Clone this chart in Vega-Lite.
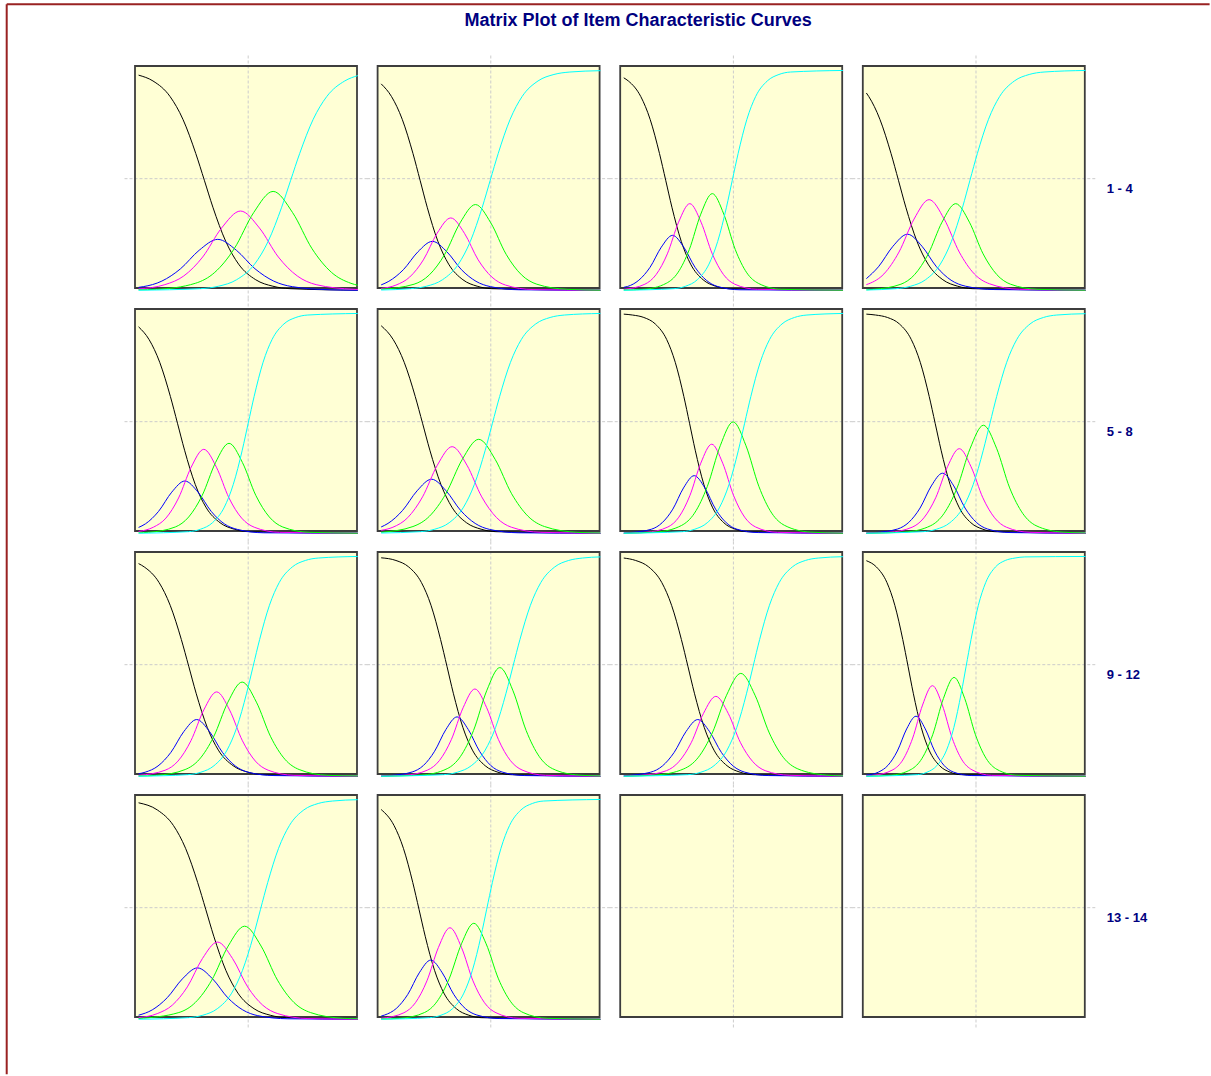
{
"$schema": "https://vega.github.io/schema/vega-lite/v6.json",
"padding": {"left": 5, "top": 3, "right": 0, "bottom": 0},
"background": "white",
"title": {"text": "Matrix Plot of Item Characteristic Curves", "font": "Liberation Sans", "fontSize": 18, "fontWeight": "bold", "color": "#000080", "anchor": "middle", "offset": -27, "dx": 30},
"data": {"values": [
{"i":1,"g":1},{"i":2,"g":1},{"i":3,"g":1},{"i":4,"g":1},{"i":5,"g":1},{"i":6,"g":1},{"i":7,"g":1},{"i":8,"g":1},
{"i":9,"g":1},{"i":10,"g":1},{"i":11,"g":1},{"i":12,"g":1},{"i":13,"g":1},{"i":14,"g":1},{"i":15,"g":1},{"i":16,"g":1},
{"i":4,"lab":"1 - 4"},{"i":8,"lab":"5 - 8"},{"i":12,"lab":"9 - 12"},{"i":16,"lab":"13 - 14"},
{"i":1,"b":1},
{"i":1,"c":1,"t":-4,"p":0.964},{"i":1,"c":1,"t":-3.475,"p":0.938},{"i":1,"c":1,"t":-2.85,"p":0.868},{"i":1,"c":1,"t":-2.381,"p":0.766},{"i":1,"c":1,"t":-1.913,"p":0.613},{"i":1,"c":1,"t":-1.6,"p":0.493},{"i":1,"c":1,"t":-1.288,"p":0.372},{"i":1,"c":1,"t":-0.819,"p":0.219},{"i":1,"c":1,"t":-0.35,"p":0.117},{"i":1,"c":1,"t":0.275,"p":0.047},{"i":1,"c":1,"t":0.9,"p":0.018},{"i":1,"c":1,"t":1.525,"p":0.007},{"i":1,"c":1,"t":4,"p":0},
{"i":1,"c":2,"t":-4,"p":0.013},{"i":1,"c":2,"t":-3.83,"p":0.016},{"i":1,"c":2,"t":-3.15,"p":0.041},{"i":1,"c":2,"t":-2.47,"p":0.096},{"i":1,"c":2,"t":-1.79,"p":0.179},{"i":1,"c":2,"t":-1.11,"p":0.228},{"i":1,"c":2,"t":-0.43,"p":0.179},{"i":1,"c":2,"t":0.25,"p":0.096},{"i":1,"c":2,"t":0.93,"p":0.041},{"i":1,"c":2,"t":1.61,"p":0.016},{"i":1,"c":2,"t":2.97,"p":0.002},{"i":1,"c":2,"t":4,"p":0},
{"i":1,"c":3,"t":-4,"p":0.006},{"i":1,"c":3,"t":-3.04,"p":0.025},{"i":1,"c":3,"t":-2.35,"p":0.064},{"i":1,"c":3,"t":-1.66,"p":0.149},{"i":1,"c":3,"t":-0.97,"p":0.279},{"i":1,"c":3,"t":-0.28,"p":0.355},{"i":1,"c":3,"t":0.41,"p":0.279},{"i":1,"c":3,"t":1.1,"p":0.149},{"i":1,"c":3,"t":1.79,"p":0.064},{"i":1,"c":3,"t":2.48,"p":0.025},{"i":1,"c":3,"t":3.86,"p":0.004},{"i":1,"c":3,"t":4,"p":0.003},
{"i":1,"c":4,"t":-4,"p":0.002},{"i":1,"c":4,"t":-3.35,"p":0.004},{"i":1,"c":4,"t":-1.93,"p":0.031},{"i":1,"c":4,"t":-1.22,"p":0.08},{"i":1,"c":4,"t":-0.51,"p":0.186},{"i":1,"c":4,"t":0.2,"p":0.348},{"i":1,"c":4,"t":0.91,"p":0.443},{"i":1,"c":4,"t":1.62,"p":0.348},{"i":1,"c":4,"t":2.33,"p":0.186},{"i":1,"c":4,"t":3.04,"p":0.08},{"i":1,"c":4,"t":3.75,"p":0.031},{"i":1,"c":4,"t":4,"p":0.022},
{"i":1,"c":5,"t":-4,"p":0},{"i":1,"c":5,"t":-1.74,"p":0.007},{"i":1,"c":5,"t":-1.082,"p":0.018},{"i":1,"c":5,"t":-0.424,"p":0.047},{"i":1,"c":5,"t":0.234,"p":0.117},{"i":1,"c":5,"t":0.728,"p":0.219},{"i":1,"c":5,"t":1.221,"p":0.372},{"i":1,"c":5,"t":1.55,"p":0.493},{"i":1,"c":5,"t":1.879,"p":0.613},{"i":1,"c":5,"t":2.372,"p":0.766},{"i":1,"c":5,"t":2.866,"p":0.868},{"i":1,"c":5,"t":3.524,"p":0.938},{"i":1,"c":5,"t":4,"p":0.962},
{"i":2,"c":1,"t":-4,"p":0.925},{"i":2,"c":1,"t":-3.622,"p":0.868},{"i":2,"c":1,"t":-3.231,"p":0.766},{"i":2,"c":1,"t":-2.84,"p":0.613},{"i":2,"c":1,"t":-2.58,"p":0.493},{"i":2,"c":1,"t":-2.32,"p":0.372},{"i":2,"c":1,"t":-1.929,"p":0.219},{"i":2,"c":1,"t":-1.538,"p":0.117},{"i":2,"c":1,"t":-1.017,"p":0.047},{"i":2,"c":1,"t":-0.496,"p":0.018},{"i":2,"c":1,"t":0.025,"p":0.007},{"i":2,"c":1,"t":4,"p":0},
{"i":2,"c":2,"t":-4,"p":0.024},{"i":2,"c":2,"t":-3.72,"p":0.04},{"i":2,"c":2,"t":-3.19,"p":0.092},{"i":2,"c":2,"t":-2.66,"p":0.172},{"i":2,"c":2,"t":-2.13,"p":0.219},{"i":2,"c":2,"t":-1.6,"p":0.172},{"i":2,"c":2,"t":-1.07,"p":0.092},{"i":2,"c":2,"t":-0.54,"p":0.04},{"i":2,"c":2,"t":-0.01,"p":0.016},{"i":2,"c":2,"t":1.05,"p":0.002},{"i":2,"c":2,"t":4,"p":0},
{"i":2,"c":3,"t":-4,"p":0.008},{"i":2,"c":3,"t":-3.46,"p":0.023},{"i":2,"c":3,"t":-2.96,"p":0.059},{"i":2,"c":3,"t":-2.46,"p":0.136},{"i":2,"c":3,"t":-1.96,"p":0.255},{"i":2,"c":3,"t":-1.46,"p":0.324},{"i":2,"c":3,"t":-0.96,"p":0.255},{"i":2,"c":3,"t":-0.46,"p":0.136},{"i":2,"c":3,"t":0.04,"p":0.059},{"i":2,"c":3,"t":0.54,"p":0.023},{"i":2,"c":3,"t":1.54,"p":0.003},{"i":2,"c":3,"t":4,"p":0},
{"i":2,"c":4,"t":-4,"p":0.004},{"i":2,"c":4,"t":-2.8,"p":0.027},{"i":2,"c":4,"t":-2.24,"p":0.069},{"i":2,"c":4,"t":-1.68,"p":0.161},{"i":2,"c":4,"t":-1.12,"p":0.302},{"i":2,"c":4,"t":-0.56,"p":0.384},{"i":2,"c":4,"t":0,"p":0.302},{"i":2,"c":4,"t":0.56,"p":0.161},{"i":2,"c":4,"t":1.12,"p":0.069},{"i":2,"c":4,"t":1.68,"p":0.027},{"i":2,"c":4,"t":2.8,"p":0.004},{"i":2,"c":4,"t":4,"p":0},
{"i":2,"c":5,"t":-4,"p":0.001},{"i":2,"c":5,"t":-2.925,"p":0.007},{"i":2,"c":5,"t":-2.344,"p":0.018},{"i":2,"c":5,"t":-1.763,"p":0.047},{"i":2,"c":5,"t":-1.182,"p":0.117},{"i":2,"c":5,"t":-0.746,"p":0.219},{"i":2,"c":5,"t":-0.311,"p":0.372},{"i":2,"c":5,"t":-0.02,"p":0.493},{"i":2,"c":5,"t":0.271,"p":0.613},{"i":2,"c":5,"t":0.706,"p":0.766},{"i":2,"c":5,"t":1.142,"p":0.868},{"i":2,"c":5,"t":1.723,"p":0.938},{"i":2,"c":5,"t":2.304,"p":0.967},{"i":2,"c":5,"t":2.885,"p":0.978},{"i":2,"c":5,"t":4,"p":0.984},
{"i":3,"c":1,"t":-4,"p":0.952},{"i":3,"c":1,"t":-3.834,"p":0.938},{"i":3,"c":1,"t":-3.379,"p":0.868},{"i":3,"c":1,"t":-3.038,"p":0.766},{"i":3,"c":1,"t":-2.697,"p":0.613},{"i":3,"c":1,"t":-2.47,"p":0.493},{"i":3,"c":1,"t":-2.243,"p":0.372},{"i":3,"c":1,"t":-1.902,"p":0.219},{"i":3,"c":1,"t":-1.561,"p":0.117},{"i":3,"c":1,"t":-1.106,"p":0.047},{"i":3,"c":1,"t":-0.652,"p":0.018},{"i":3,"c":1,"t":-0.197,"p":0.007},{"i":3,"c":1,"t":4,"p":0},
{"i":3,"c":2,"t":-4,"p":0.013},{"i":3,"c":2,"t":-3.86,"p":0.017},{"i":3,"c":2,"t":-3.45,"p":0.045},{"i":3,"c":2,"t":-3.04,"p":0.103},{"i":3,"c":2,"t":-2.63,"p":0.193},{"i":3,"c":2,"t":-2.22,"p":0.246},{"i":3,"c":2,"t":-1.81,"p":0.193},{"i":3,"c":2,"t":-1.4,"p":0.103},{"i":3,"c":2,"t":-0.99,"p":0.045},{"i":3,"c":2,"t":-0.58,"p":0.017},{"i":3,"c":2,"t":0.24,"p":0.002},{"i":3,"c":2,"t":4,"p":0},
{"i":3,"c":3,"t":-4,"p":0.004},{"i":3,"c":3,"t":-3.23,"p":0.027},{"i":3,"c":3,"t":-2.82,"p":0.07},{"i":3,"c":3,"t":-2.41,"p":0.163},{"i":3,"c":3,"t":-2,"p":0.305},{"i":3,"c":3,"t":-1.59,"p":0.388},{"i":3,"c":3,"t":-1.18,"p":0.305},{"i":3,"c":3,"t":-0.77,"p":0.163},{"i":3,"c":3,"t":-0.36,"p":0.07},{"i":3,"c":3,"t":0.05,"p":0.027},{"i":3,"c":3,"t":0.87,"p":0.004},{"i":3,"c":3,"t":4,"p":0},
{"i":3,"c":4,"t":-4,"p":0.001},{"i":3,"c":4,"t":-3.29,"p":0.004},{"i":3,"c":4,"t":-2.45,"p":0.031},{"i":3,"c":4,"t":-2.03,"p":0.078},{"i":3,"c":4,"t":-1.61,"p":0.182},{"i":3,"c":4,"t":-1.19,"p":0.341},{"i":3,"c":4,"t":-0.77,"p":0.433},{"i":3,"c":4,"t":-0.35,"p":0.341},{"i":3,"c":4,"t":0.07,"p":0.182},{"i":3,"c":4,"t":0.49,"p":0.078},{"i":3,"c":4,"t":0.91,"p":0.031},{"i":3,"c":4,"t":1.75,"p":0.004},{"i":3,"c":4,"t":4,"p":0},
{"i":3,"c":5,"t":-4,"p":0},{"i":3,"c":5,"t":-2.168,"p":0.007},{"i":3,"c":5,"t":-1.742,"p":0.018},{"i":3,"c":5,"t":-1.317,"p":0.047},{"i":3,"c":5,"t":-0.891,"p":0.117},{"i":3,"c":5,"t":-0.572,"p":0.219},{"i":3,"c":5,"t":-0.253,"p":0.372},{"i":3,"c":5,"t":-0.04,"p":0.493},{"i":3,"c":5,"t":0.173,"p":0.613},{"i":3,"c":5,"t":0.492,"p":0.766},{"i":3,"c":5,"t":0.811,"p":0.868},{"i":3,"c":5,"t":1.237,"p":0.938},{"i":3,"c":5,"t":1.662,"p":0.967},{"i":3,"c":5,"t":2.088,"p":0.978},{"i":3,"c":5,"t":4,"p":0.985},
{"i":4,"c":1,"t":-4,"p":0.884},{"i":4,"c":1,"t":-3.911,"p":0.868},{"i":4,"c":1,"t":-3.506,"p":0.766},{"i":4,"c":1,"t":-3.1,"p":0.613},{"i":4,"c":1,"t":-2.83,"p":0.493},{"i":4,"c":1,"t":-2.56,"p":0.372},{"i":4,"c":1,"t":-2.154,"p":0.219},{"i":4,"c":1,"t":-1.749,"p":0.117},{"i":4,"c":1,"t":-1.209,"p":0.047},{"i":4,"c":1,"t":-0.668,"p":0.018},{"i":4,"c":1,"t":-0.127,"p":0.007},{"i":4,"c":1,"t":4,"p":0},
{"i":4,"c":2,"t":-4,"p":0.052},{"i":4,"c":2,"t":-3.56,"p":0.105},{"i":4,"c":2,"t":-3.03,"p":0.197},{"i":4,"c":2,"t":-2.5,"p":0.251},{"i":4,"c":2,"t":-1.97,"p":0.197},{"i":4,"c":2,"t":-1.44,"p":0.105},{"i":4,"c":2,"t":-0.91,"p":0.045},{"i":4,"c":2,"t":-0.38,"p":0.018},{"i":4,"c":2,"t":0.68,"p":0.003},{"i":4,"c":2,"t":4,"p":0},
{"i":4,"c":3,"t":-4,"p":0.025},{"i":4,"c":3,"t":-3.91,"p":0.029},{"i":4,"c":3,"t":-3.36,"p":0.073},{"i":4,"c":3,"t":-2.81,"p":0.171},{"i":4,"c":3,"t":-2.26,"p":0.319},{"i":4,"c":3,"t":-1.71,"p":0.406},{"i":4,"c":3,"t":-1.16,"p":0.319},{"i":4,"c":3,"t":-0.61,"p":0.171},{"i":4,"c":3,"t":-0.06,"p":0.073},{"i":4,"c":3,"t":0.49,"p":0.029},{"i":4,"c":3,"t":1.59,"p":0.004},{"i":4,"c":3,"t":4,"p":0},
{"i":4,"c":4,"t":-4,"p":0.002},{"i":4,"c":4,"t":-3.74,"p":0.004},{"i":4,"c":4,"t":-2.74,"p":0.027},{"i":4,"c":4,"t":-2.24,"p":0.07},{"i":4,"c":4,"t":-1.74,"p":0.163},{"i":4,"c":4,"t":-1.24,"p":0.305},{"i":4,"c":4,"t":-0.74,"p":0.388},{"i":4,"c":4,"t":-0.24,"p":0.305},{"i":4,"c":4,"t":0.26,"p":0.163},{"i":4,"c":4,"t":0.76,"p":0.07},{"i":4,"c":4,"t":1.26,"p":0.027},{"i":4,"c":4,"t":2.26,"p":0.004},{"i":4,"c":4,"t":4,"p":0},
{"i":4,"c":5,"t":-4,"p":0.001},{"i":4,"c":5,"t":-2.923,"p":0.007},{"i":4,"c":5,"t":-2.382,"p":0.018},{"i":4,"c":5,"t":-1.842,"p":0.047},{"i":4,"c":5,"t":-1.301,"p":0.117},{"i":4,"c":5,"t":-0.896,"p":0.219},{"i":4,"c":5,"t":-0.49,"p":0.372},{"i":4,"c":5,"t":-0.22,"p":0.493},{"i":4,"c":5,"t":0.05,"p":0.613},{"i":4,"c":5,"t":0.456,"p":0.766},{"i":4,"c":5,"t":0.861,"p":0.868},{"i":4,"c":5,"t":1.402,"p":0.938},{"i":4,"c":5,"t":1.942,"p":0.967},{"i":4,"c":5,"t":2.483,"p":0.978},{"i":4,"c":5,"t":4,"p":0.985},
{"i":5,"c":1,"t":-4,"p":0.925},{"i":5,"c":1,"t":-3.616,"p":0.868},{"i":5,"c":1,"t":-3.228,"p":0.766},{"i":5,"c":1,"t":-2.839,"p":0.613},{"i":5,"c":1,"t":-2.58,"p":0.493},{"i":5,"c":1,"t":-2.321,"p":0.372},{"i":5,"c":1,"t":-1.933,"p":0.219},{"i":5,"c":1,"t":-1.544,"p":0.117},{"i":5,"c":1,"t":-1.026,"p":0.047},{"i":5,"c":1,"t":-0.508,"p":0.018},{"i":5,"c":1,"t":0.01,"p":0.007},{"i":5,"c":1,"t":4,"p":0},
{"i":5,"c":2,"t":-4,"p":0.026},{"i":5,"c":2,"t":-3.75,"p":0.042},{"i":5,"c":2,"t":-3.27,"p":0.098},{"i":5,"c":2,"t":-2.79,"p":0.184},{"i":5,"c":2,"t":-2.31,"p":0.234},{"i":5,"c":2,"t":-1.83,"p":0.184},{"i":5,"c":2,"t":-1.35,"p":0.098},{"i":5,"c":2,"t":-0.87,"p":0.042},{"i":5,"c":2,"t":-0.39,"p":0.017},{"i":5,"c":2,"t":0.57,"p":0.002},{"i":5,"c":2,"t":4,"p":0},
{"i":5,"c":3,"t":-4,"p":0.008},{"i":5,"c":3,"t":-3.46,"p":0.027},{"i":5,"c":3,"t":-3,"p":0.068},{"i":5,"c":3,"t":-2.54,"p":0.158},{"i":5,"c":3,"t":-2.08,"p":0.296},{"i":5,"c":3,"t":-1.62,"p":0.376},{"i":5,"c":3,"t":-1.16,"p":0.296},{"i":5,"c":3,"t":-0.7,"p":0.158},{"i":5,"c":3,"t":-0.24,"p":0.068},{"i":5,"c":3,"t":0.22,"p":0.027},{"i":5,"c":3,"t":1.14,"p":0.004},{"i":5,"c":3,"t":4,"p":0},
{"i":5,"c":4,"t":-4,"p":0.002},{"i":5,"c":4,"t":-3.64,"p":0.004},{"i":5,"c":4,"t":-2.66,"p":0.028},{"i":5,"c":4,"t":-2.17,"p":0.073},{"i":5,"c":4,"t":-1.68,"p":0.169},{"i":5,"c":4,"t":-1.19,"p":0.317},{"i":5,"c":4,"t":-0.7,"p":0.403},{"i":5,"c":4,"t":-0.21,"p":0.317},{"i":5,"c":4,"t":0.28,"p":0.169},{"i":5,"c":4,"t":0.77,"p":0.073},{"i":5,"c":4,"t":1.26,"p":0.028},{"i":5,"c":4,"t":2.24,"p":0.004},{"i":5,"c":4,"t":4,"p":0},
{"i":5,"c":5,"t":-4,"p":0},{"i":5,"c":5,"t":-2.174,"p":0.007},{"i":5,"c":5,"t":-1.739,"p":0.018},{"i":5,"c":5,"t":-1.304,"p":0.047},{"i":5,"c":5,"t":-0.87,"p":0.117},{"i":5,"c":5,"t":-0.543,"p":0.219},{"i":5,"c":5,"t":-0.217,"p":0.372},{"i":5,"c":5,"t":0,"p":0.493},{"i":5,"c":5,"t":0.217,"p":0.613},{"i":5,"c":5,"t":0.543,"p":0.766},{"i":5,"c":5,"t":0.87,"p":0.868},{"i":5,"c":5,"t":1.304,"p":0.938},{"i":5,"c":5,"t":1.739,"p":0.967},{"i":5,"c":5,"t":2.174,"p":0.978},{"i":5,"c":5,"t":4,"p":0.985},
{"i":6,"c":1,"t":-4,"p":0.93},{"i":6,"c":1,"t":-3.56,"p":0.868},{"i":6,"c":1,"t":-3.159,"p":0.766},{"i":6,"c":1,"t":-2.757,"p":0.613},{"i":6,"c":1,"t":-2.49,"p":0.493},{"i":6,"c":1,"t":-2.223,"p":0.372},{"i":6,"c":1,"t":-1.821,"p":0.219},{"i":6,"c":1,"t":-1.42,"p":0.117},{"i":6,"c":1,"t":-0.886,"p":0.047},{"i":6,"c":1,"t":-0.351,"p":0.018},{"i":6,"c":1,"t":0.184,"p":0.007},{"i":6,"c":1,"t":4,"p":0},
{"i":6,"c":2,"t":-4,"p":0.028},{"i":6,"c":2,"t":-3.75,"p":0.044},{"i":6,"c":2,"t":-3.22,"p":0.102},{"i":6,"c":2,"t":-2.69,"p":0.19},{"i":6,"c":2,"t":-2.16,"p":0.242},{"i":6,"c":2,"t":-1.63,"p":0.19},{"i":6,"c":2,"t":-1.1,"p":0.102},{"i":6,"c":2,"t":-0.57,"p":0.044},{"i":6,"c":2,"t":-0.04,"p":0.017},{"i":6,"c":2,"t":1.02,"p":0.002},{"i":6,"c":2,"t":4,"p":0},
{"i":6,"c":3,"t":-4,"p":0.013},{"i":6,"c":3,"t":-3.57,"p":0.027},{"i":6,"c":3,"t":-3.03,"p":0.07},{"i":6,"c":3,"t":-2.49,"p":0.163},{"i":6,"c":3,"t":-1.95,"p":0.305},{"i":6,"c":3,"t":-1.41,"p":0.388},{"i":6,"c":3,"t":-0.87,"p":0.305},{"i":6,"c":3,"t":-0.33,"p":0.163},{"i":6,"c":3,"t":0.21,"p":0.07},{"i":6,"c":3,"t":0.75,"p":0.027},{"i":6,"c":3,"t":1.83,"p":0.004},{"i":6,"c":3,"t":4,"p":0},
{"i":6,"c":4,"t":-4,"p":0.004},{"i":6,"c":4,"t":-2.84,"p":0.03},{"i":6,"c":4,"t":-2.24,"p":0.076},{"i":6,"c":4,"t":-1.64,"p":0.177},{"i":6,"c":4,"t":-1.04,"p":0.331},{"i":6,"c":4,"t":-0.44,"p":0.421},{"i":6,"c":4,"t":0.16,"p":0.331},{"i":6,"c":4,"t":0.76,"p":0.177},{"i":6,"c":4,"t":1.36,"p":0.076},{"i":6,"c":4,"t":1.96,"p":0.03},{"i":6,"c":4,"t":3.16,"p":0.004},{"i":6,"c":4,"t":4,"p":0.001},
{"i":6,"c":5,"t":-4,"p":0.001},{"i":6,"c":5,"t":-2.572,"p":0.007},{"i":6,"c":5,"t":-2.045,"p":0.018},{"i":6,"c":5,"t":-1.519,"p":0.047},{"i":6,"c":5,"t":-0.993,"p":0.117},{"i":6,"c":5,"t":-0.598,"p":0.219},{"i":6,"c":5,"t":-0.203,"p":0.372},{"i":6,"c":5,"t":0.06,"p":0.493},{"i":6,"c":5,"t":0.323,"p":0.613},{"i":6,"c":5,"t":0.718,"p":0.766},{"i":6,"c":5,"t":1.113,"p":0.868},{"i":6,"c":5,"t":1.639,"p":0.938},{"i":6,"c":5,"t":2.165,"p":0.967},{"i":6,"c":5,"t":2.692,"p":0.978},{"i":6,"c":5,"t":4,"p":0.985},
{"i":7,"c":1,"t":-4,"p":0.982},{"i":7,"c":1,"t":-3.683,"p":0.978},{"i":7,"c":1,"t":-3.267,"p":0.967},{"i":7,"c":1,"t":-2.85,"p":0.938},{"i":7,"c":1,"t":-2.433,"p":0.868},{"i":7,"c":1,"t":-2.121,"p":0.766},{"i":7,"c":1,"t":-1.808,"p":0.613},{"i":7,"c":1,"t":-1.6,"p":0.493},{"i":7,"c":1,"t":-1.392,"p":0.372},{"i":7,"c":1,"t":-1.079,"p":0.219},{"i":7,"c":1,"t":-0.767,"p":0.117},{"i":7,"c":1,"t":-0.35,"p":0.047},{"i":7,"c":1,"t":0.067,"p":0.018},{"i":7,"c":1,"t":0.483,"p":0.007},{"i":7,"c":1,"t":4,"p":0},
{"i":7,"c":2,"t":-4,"p":0.001},{"i":7,"c":2,"t":-3.77,"p":0.003},{"i":7,"c":2,"t":-2.99,"p":0.018},{"i":7,"c":2,"t":-2.6,"p":0.047},{"i":7,"c":2,"t":-2.21,"p":0.108},{"i":7,"c":2,"t":-1.82,"p":0.203},{"i":7,"c":2,"t":-1.43,"p":0.258},{"i":7,"c":2,"t":-1.04,"p":0.203},{"i":7,"c":2,"t":-0.65,"p":0.108},{"i":7,"c":2,"t":-0.26,"p":0.047},{"i":7,"c":2,"t":0.13,"p":0.018},{"i":7,"c":2,"t":0.91,"p":0.003},{"i":7,"c":2,"t":4,"p":0},
{"i":7,"c":3,"t":-4,"p":0},{"i":7,"c":3,"t":-3.19,"p":0.004},{"i":7,"c":3,"t":-2.39,"p":0.028},{"i":7,"c":3,"t":-1.99,"p":0.072},{"i":7,"c":3,"t":-1.59,"p":0.168},{"i":7,"c":3,"t":-1.19,"p":0.314},{"i":7,"c":3,"t":-0.79,"p":0.399},{"i":7,"c":3,"t":-0.39,"p":0.314},{"i":7,"c":3,"t":0.01,"p":0.168},{"i":7,"c":3,"t":0.41,"p":0.072},{"i":7,"c":3,"t":0.81,"p":0.028},{"i":7,"c":3,"t":1.61,"p":0.004},{"i":7,"c":3,"t":4,"p":0},
{"i":7,"c":4,"t":-4,"p":0},{"i":7,"c":4,"t":-2.83,"p":0.005},{"i":7,"c":4,"t":-1.89,"p":0.035},{"i":7,"c":4,"t":-1.42,"p":0.09},{"i":7,"c":4,"t":-0.95,"p":0.21},{"i":7,"c":4,"t":-0.48,"p":0.392},{"i":7,"c":4,"t":-0.01,"p":0.499},{"i":7,"c":4,"t":0.46,"p":0.392},{"i":7,"c":4,"t":0.93,"p":0.21},{"i":7,"c":4,"t":1.4,"p":0.09},{"i":7,"c":4,"t":1.87,"p":0.035},{"i":7,"c":4,"t":2.81,"p":0.005},{"i":7,"c":4,"t":4,"p":0},
{"i":7,"c":5,"t":-4,"p":0},{"i":7,"c":5,"t":-1.863,"p":0.007},{"i":7,"c":5,"t":-1.408,"p":0.018},{"i":7,"c":5,"t":-0.954,"p":0.047},{"i":7,"c":5,"t":-0.499,"p":0.117},{"i":7,"c":5,"t":-0.158,"p":0.219},{"i":7,"c":5,"t":0.183,"p":0.372},{"i":7,"c":5,"t":0.41,"p":0.493},{"i":7,"c":5,"t":0.637,"p":0.613},{"i":7,"c":5,"t":0.978,"p":0.766},{"i":7,"c":5,"t":1.319,"p":0.868},{"i":7,"c":5,"t":1.774,"p":0.938},{"i":7,"c":5,"t":2.228,"p":0.967},{"i":7,"c":5,"t":2.683,"p":0.978},{"i":7,"c":5,"t":4,"p":0.985},
{"i":8,"c":1,"t":-4,"p":0.982},{"i":8,"c":1,"t":-3.664,"p":0.978},{"i":8,"c":1,"t":-3.229,"p":0.967},{"i":8,"c":1,"t":-2.794,"p":0.938},{"i":8,"c":1,"t":-2.36,"p":0.868},{"i":8,"c":1,"t":-2.033,"p":0.766},{"i":8,"c":1,"t":-1.707,"p":0.613},{"i":8,"c":1,"t":-1.49,"p":0.493},{"i":8,"c":1,"t":-1.273,"p":0.372},{"i":8,"c":1,"t":-0.947,"p":0.219},{"i":8,"c":1,"t":-0.62,"p":0.117},{"i":8,"c":1,"t":-0.186,"p":0.047},{"i":8,"c":1,"t":0.249,"p":0.018},{"i":8,"c":1,"t":0.684,"p":0.007},{"i":8,"c":1,"t":4,"p":0},
{"i":8,"c":2,"t":-4,"p":0.001},{"i":8,"c":2,"t":-3.68,"p":0.003},{"i":8,"c":2,"t":-2.86,"p":0.019},{"i":8,"c":2,"t":-2.45,"p":0.049},{"i":8,"c":2,"t":-2.04,"p":0.113},{"i":8,"c":2,"t":-1.63,"p":0.212},{"i":8,"c":2,"t":-1.22,"p":0.269},{"i":8,"c":2,"t":-0.81,"p":0.212},{"i":8,"c":2,"t":-0.4,"p":0.113},{"i":8,"c":2,"t":0.01,"p":0.049},{"i":8,"c":2,"t":0.42,"p":0.019},{"i":8,"c":2,"t":1.24,"p":0.003},{"i":8,"c":2,"t":4,"p":0},
{"i":8,"c":3,"t":-4,"p":0.001},{"i":8,"c":3,"t":-3.19,"p":0.004},{"i":8,"c":3,"t":-2.33,"p":0.027},{"i":8,"c":3,"t":-1.9,"p":0.069},{"i":8,"c":3,"t":-1.47,"p":0.159},{"i":8,"c":3,"t":-1.04,"p":0.298},{"i":8,"c":3,"t":-0.61,"p":0.379},{"i":8,"c":3,"t":-0.18,"p":0.298},{"i":8,"c":3,"t":0.25,"p":0.159},{"i":8,"c":3,"t":0.68,"p":0.069},{"i":8,"c":3,"t":1.11,"p":0.027},{"i":8,"c":3,"t":1.97,"p":0.004},{"i":8,"c":3,"t":4,"p":0},
{"i":8,"c":4,"t":-4,"p":0},{"i":8,"c":4,"t":-2.61,"p":0.005},{"i":8,"c":4,"t":-1.65,"p":0.034},{"i":8,"c":4,"t":-1.17,"p":0.088},{"i":8,"c":4,"t":-0.69,"p":0.203},{"i":8,"c":4,"t":-0.21,"p":0.381},{"i":8,"c":4,"t":0.27,"p":0.484},{"i":8,"c":4,"t":0.75,"p":0.381},{"i":8,"c":4,"t":1.23,"p":0.203},{"i":8,"c":4,"t":1.71,"p":0.088},{"i":8,"c":4,"t":2.19,"p":0.034},{"i":8,"c":4,"t":3.15,"p":0.005},{"i":8,"c":4,"t":4,"p":0.001},
{"i":8,"c":5,"t":-4,"p":0},{"i":8,"c":5,"t":-1.929,"p":0.007},{"i":8,"c":5,"t":-1.441,"p":0.018},{"i":8,"c":5,"t":-0.953,"p":0.047},{"i":8,"c":5,"t":-0.466,"p":0.117},{"i":8,"c":5,"t":-0.1,"p":0.219},{"i":8,"c":5,"t":0.266,"p":0.372},{"i":8,"c":5,"t":0.51,"p":0.493},{"i":8,"c":5,"t":0.754,"p":0.613},{"i":8,"c":5,"t":1.12,"p":0.766},{"i":8,"c":5,"t":1.486,"p":0.868},{"i":8,"c":5,"t":1.973,"p":0.938},{"i":8,"c":5,"t":2.461,"p":0.967},{"i":8,"c":5,"t":2.949,"p":0.978},{"i":8,"c":5,"t":4,"p":0.984},
{"i":9,"c":1,"t":-4,"p":0.953},{"i":9,"c":1,"t":-3.792,"p":0.938},{"i":9,"c":1,"t":-3.251,"p":0.868},{"i":9,"c":1,"t":-2.846,"p":0.766},{"i":9,"c":1,"t":-2.44,"p":0.613},{"i":9,"c":1,"t":-2.17,"p":0.493},{"i":9,"c":1,"t":-1.9,"p":0.372},{"i":9,"c":1,"t":-1.494,"p":0.219},{"i":9,"c":1,"t":-1.089,"p":0.117},{"i":9,"c":1,"t":-0.549,"p":0.047},{"i":9,"c":1,"t":-0.008,"p":0.018},{"i":9,"c":1,"t":0.533,"p":0.007},{"i":9,"c":1,"t":4,"p":0},
{"i":9,"c":2,"t":-4,"p":0.011},{"i":9,"c":2,"t":-3.76,"p":0.018},{"i":9,"c":2,"t":-3.29,"p":0.046},{"i":9,"c":2,"t":-2.82,"p":0.107},{"i":9,"c":2,"t":-2.35,"p":0.2},{"i":9,"c":2,"t":-1.88,"p":0.254},{"i":9,"c":2,"t":-1.41,"p":0.2},{"i":9,"c":2,"t":-0.94,"p":0.107},{"i":9,"c":2,"t":-0.47,"p":0.046},{"i":9,"c":2,"t":0,"p":0.018},{"i":9,"c":2,"t":0.94,"p":0.003},{"i":9,"c":2,"t":4,"p":0},
{"i":9,"c":3,"t":-4,"p":0.004},{"i":9,"c":3,"t":-3.03,"p":0.027},{"i":9,"c":3,"t":-2.56,"p":0.068},{"i":9,"c":3,"t":-2.09,"p":0.159},{"i":9,"c":3,"t":-1.62,"p":0.297},{"i":9,"c":3,"t":-1.15,"p":0.378},{"i":9,"c":3,"t":-0.68,"p":0.297},{"i":9,"c":3,"t":-0.21,"p":0.159},{"i":9,"c":3,"t":0.26,"p":0.068},{"i":9,"c":3,"t":0.73,"p":0.027},{"i":9,"c":3,"t":1.67,"p":0.004},{"i":9,"c":3,"t":4,"p":0},
{"i":9,"c":4,"t":-4,"p":0.001},{"i":9,"c":4,"t":-3.34,"p":0.004},{"i":9,"c":4,"t":-2.3,"p":0.03},{"i":9,"c":4,"t":-1.78,"p":0.076},{"i":9,"c":4,"t":-1.26,"p":0.177},{"i":9,"c":4,"t":-0.74,"p":0.332},{"i":9,"c":4,"t":-0.22,"p":0.422},{"i":9,"c":4,"t":0.3,"p":0.332},{"i":9,"c":4,"t":0.82,"p":0.177},{"i":9,"c":4,"t":1.34,"p":0.076},{"i":9,"c":4,"t":1.86,"p":0.03},{"i":9,"c":4,"t":2.9,"p":0.004},{"i":9,"c":4,"t":4,"p":0.001},
{"i":9,"c":5,"t":-4,"p":0},{"i":9,"c":5,"t":-2.201,"p":0.007},{"i":9,"c":5,"t":-1.725,"p":0.018},{"i":9,"c":5,"t":-1.249,"p":0.047},{"i":9,"c":5,"t":-0.772,"p":0.117},{"i":9,"c":5,"t":-0.415,"p":0.219},{"i":9,"c":5,"t":-0.058,"p":0.372},{"i":9,"c":5,"t":0.18,"p":0.493},{"i":9,"c":5,"t":0.418,"p":0.613},{"i":9,"c":5,"t":0.775,"p":0.766},{"i":9,"c":5,"t":1.132,"p":0.868},{"i":9,"c":5,"t":1.609,"p":0.938},{"i":9,"c":5,"t":2.085,"p":0.967},{"i":9,"c":5,"t":2.561,"p":0.978},{"i":9,"c":5,"t":4,"p":0.985},
{"i":10,"c":1,"t":-4,"p":0.979},{"i":10,"c":1,"t":-3.46,"p":0.967},{"i":10,"c":1,"t":-2.995,"p":0.938},{"i":10,"c":1,"t":-2.53,"p":0.868},{"i":10,"c":1,"t":-2.181,"p":0.766},{"i":10,"c":1,"t":-1.833,"p":0.613},{"i":10,"c":1,"t":-1.6,"p":0.493},{"i":10,"c":1,"t":-1.367,"p":0.372},{"i":10,"c":1,"t":-1.019,"p":0.219},{"i":10,"c":1,"t":-0.67,"p":0.117},{"i":10,"c":1,"t":-0.205,"p":0.047},{"i":10,"c":1,"t":0.26,"p":0.018},{"i":10,"c":1,"t":0.726,"p":0.007},{"i":10,"c":1,"t":4,"p":0},
{"i":10,"c":2,"t":-4,"p":0.001},{"i":10,"c":2,"t":-3.69,"p":0.003},{"i":10,"c":2,"t":-2.87,"p":0.019},{"i":10,"c":2,"t":-2.46,"p":0.048},{"i":10,"c":2,"t":-2.05,"p":0.112},{"i":10,"c":2,"t":-1.64,"p":0.209},{"i":10,"c":2,"t":-1.23,"p":0.266},{"i":10,"c":2,"t":-0.82,"p":0.209},{"i":10,"c":2,"t":-0.41,"p":0.112},{"i":10,"c":2,"t":0,"p":0.048},{"i":10,"c":2,"t":0.41,"p":0.019},{"i":10,"c":2,"t":1.23,"p":0.003},{"i":10,"c":2,"t":4,"p":0},
{"i":10,"c":3,"t":-4,"p":0.001},{"i":10,"c":3,"t":-3.16,"p":0.004},{"i":10,"c":3,"t":-2.3,"p":0.028},{"i":10,"c":3,"t":-1.87,"p":0.071},{"i":10,"c":3,"t":-1.44,"p":0.164},{"i":10,"c":3,"t":-1.01,"p":0.307},{"i":10,"c":3,"t":-0.58,"p":0.391},{"i":10,"c":3,"t":-0.15,"p":0.307},{"i":10,"c":3,"t":0.28,"p":0.164},{"i":10,"c":3,"t":0.71,"p":0.071},{"i":10,"c":3,"t":1.14,"p":0.028},{"i":10,"c":3,"t":2,"p":0.004},{"i":10,"c":3,"t":4,"p":0},
{"i":10,"c":4,"t":-4,"p":0},{"i":10,"c":4,"t":-2.55,"p":0.005},{"i":10,"c":4,"t":-1.59,"p":0.034},{"i":10,"c":4,"t":-1.11,"p":0.088},{"i":10,"c":4,"t":-0.63,"p":0.205},{"i":10,"c":4,"t":-0.15,"p":0.383},{"i":10,"c":4,"t":0.33,"p":0.487},{"i":10,"c":4,"t":0.81,"p":0.383},{"i":10,"c":4,"t":1.29,"p":0.205},{"i":10,"c":4,"t":1.77,"p":0.088},{"i":10,"c":4,"t":2.25,"p":0.034},{"i":10,"c":4,"t":3.21,"p":0.005},{"i":10,"c":4,"t":4,"p":0.001},
{"i":10,"c":5,"t":-4,"p":0},{"i":10,"c":5,"t":-1.728,"p":0.007},{"i":10,"c":5,"t":-1.22,"p":0.018},{"i":10,"c":5,"t":-0.713,"p":0.047},{"i":10,"c":5,"t":-0.205,"p":0.117},{"i":10,"c":5,"t":0.176,"p":0.219},{"i":10,"c":5,"t":0.556,"p":0.372},{"i":10,"c":5,"t":0.81,"p":0.493},{"i":10,"c":5,"t":1.064,"p":0.613},{"i":10,"c":5,"t":1.445,"p":0.766},{"i":10,"c":5,"t":1.825,"p":0.868},{"i":10,"c":5,"t":2.333,"p":0.938},{"i":10,"c":5,"t":2.84,"p":0.967},{"i":10,"c":5,"t":3.348,"p":0.978},{"i":10,"c":5,"t":4,"p":0.983},
{"i":11,"c":1,"t":-4,"p":0.978},{"i":11,"c":1,"t":-3.565,"p":0.967},{"i":11,"c":1,"t":-3.089,"p":0.938},{"i":11,"c":1,"t":-2.612,"p":0.868},{"i":11,"c":1,"t":-2.255,"p":0.766},{"i":11,"c":1,"t":-1.898,"p":0.613},{"i":11,"c":1,"t":-1.66,"p":0.493},{"i":11,"c":1,"t":-1.422,"p":0.372},{"i":11,"c":1,"t":-1.065,"p":0.219},{"i":11,"c":1,"t":-0.708,"p":0.117},{"i":11,"c":1,"t":-0.231,"p":0.047},{"i":11,"c":1,"t":0.245,"p":0.018},{"i":11,"c":1,"t":0.721,"p":0.007},{"i":11,"c":1,"t":4,"p":0},
{"i":11,"c":2,"t":-4,"p":0.002},{"i":11,"c":2,"t":-3.02,"p":0.018},{"i":11,"c":2,"t":-2.59,"p":0.046},{"i":11,"c":2,"t":-2.16,"p":0.107},{"i":11,"c":2,"t":-1.73,"p":0.2},{"i":11,"c":2,"t":-1.3,"p":0.254},{"i":11,"c":2,"t":-0.87,"p":0.2},{"i":11,"c":2,"t":-0.44,"p":0.107},{"i":11,"c":2,"t":-0.01,"p":0.046},{"i":11,"c":2,"t":0.42,"p":0.018},{"i":11,"c":2,"t":1.28,"p":0.003},{"i":11,"c":2,"t":4,"p":0},
{"i":11,"c":3,"t":-4,"p":0.001},{"i":11,"c":3,"t":-3.34,"p":0.004},{"i":11,"c":3,"t":-2.44,"p":0.025},{"i":11,"c":3,"t":-1.99,"p":0.065},{"i":11,"c":3,"t":-1.54,"p":0.15},{"i":11,"c":3,"t":-1.09,"p":0.282},{"i":11,"c":3,"t":-0.64,"p":0.358},{"i":11,"c":3,"t":-0.19,"p":0.282},{"i":11,"c":3,"t":0.26,"p":0.15},{"i":11,"c":3,"t":0.71,"p":0.065},{"i":11,"c":3,"t":1.16,"p":0.025},{"i":11,"c":3,"t":2.06,"p":0.004},{"i":11,"c":3,"t":4,"p":0},
{"i":11,"c":4,"t":-4,"p":0},{"i":11,"c":4,"t":-2.85,"p":0.005},{"i":11,"c":4,"t":-1.81,"p":0.033},{"i":11,"c":4,"t":-1.29,"p":0.083},{"i":11,"c":4,"t":-0.77,"p":0.194},{"i":11,"c":4,"t":-0.25,"p":0.363},{"i":11,"c":4,"t":0.27,"p":0.461},{"i":11,"c":4,"t":0.79,"p":0.363},{"i":11,"c":4,"t":1.31,"p":0.194},{"i":11,"c":4,"t":1.83,"p":0.083},{"i":11,"c":4,"t":2.35,"p":0.033},{"i":11,"c":4,"t":3.39,"p":0.005},{"i":11,"c":4,"t":4,"p":0.001},
{"i":11,"c":5,"t":-4,"p":0},{"i":11,"c":5,"t":-1.661,"p":0.007},{"i":11,"c":5,"t":-1.185,"p":0.018},{"i":11,"c":5,"t":-0.709,"p":0.047},{"i":11,"c":5,"t":-0.232,"p":0.117},{"i":11,"c":5,"t":0.125,"p":0.219},{"i":11,"c":5,"t":0.482,"p":0.372},{"i":11,"c":5,"t":0.72,"p":0.493},{"i":11,"c":5,"t":0.958,"p":0.613},{"i":11,"c":5,"t":1.315,"p":0.766},{"i":11,"c":5,"t":1.672,"p":0.868},{"i":11,"c":5,"t":2.149,"p":0.938},{"i":11,"c":5,"t":2.625,"p":0.967},{"i":11,"c":5,"t":3.101,"p":0.978},{"i":11,"c":5,"t":4,"p":0.984},
{"i":12,"c":1,"t":-4,"p":0.966},{"i":12,"c":1,"t":-3.634,"p":0.938},{"i":12,"c":1,"t":-3.249,"p":0.868},{"i":12,"c":1,"t":-2.961,"p":0.766},{"i":12,"c":1,"t":-2.672,"p":0.613},{"i":12,"c":1,"t":-2.48,"p":0.493},{"i":12,"c":1,"t":-2.288,"p":0.372},{"i":12,"c":1,"t":-1.999,"p":0.219},{"i":12,"c":1,"t":-1.711,"p":0.117},{"i":12,"c":1,"t":-1.326,"p":0.047},{"i":12,"c":1,"t":-0.942,"p":0.018},{"i":12,"c":1,"t":-0.557,"p":0.007},{"i":12,"c":1,"t":4,"p":0},
{"i":12,"c":2,"t":-4,"p":0.005},{"i":12,"c":2,"t":-3.55,"p":0.019},{"i":12,"c":2,"t":-3.21,"p":0.049},{"i":12,"c":2,"t":-2.87,"p":0.113},{"i":12,"c":2,"t":-2.53,"p":0.212},{"i":12,"c":2,"t":-2.19,"p":0.269},{"i":12,"c":2,"t":-1.85,"p":0.212},{"i":12,"c":2,"t":-1.51,"p":0.113},{"i":12,"c":2,"t":-1.17,"p":0.049},{"i":12,"c":2,"t":-0.83,"p":0.019},{"i":12,"c":2,"t":-0.15,"p":0.003},{"i":12,"c":2,"t":4,"p":0},
{"i":12,"c":3,"t":-4,"p":0.002},{"i":12,"c":3,"t":-3.75,"p":0.004},{"i":12,"c":3,"t":-3.03,"p":0.029},{"i":12,"c":3,"t":-2.67,"p":0.073},{"i":12,"c":3,"t":-2.31,"p":0.171},{"i":12,"c":3,"t":-1.95,"p":0.319},{"i":12,"c":3,"t":-1.59,"p":0.406},{"i":12,"c":3,"t":-1.23,"p":0.319},{"i":12,"c":3,"t":-0.87,"p":0.171},{"i":12,"c":3,"t":-0.51,"p":0.073},{"i":12,"c":3,"t":-0.15,"p":0.029},{"i":12,"c":3,"t":0.57,"p":0.004},{"i":12,"c":3,"t":4,"p":0},
{"i":12,"c":4,"t":-4,"p":0},{"i":12,"c":4,"t":-3.14,"p":0.004},{"i":12,"c":4,"t":-2.36,"p":0.031},{"i":12,"c":4,"t":-1.97,"p":0.08},{"i":12,"c":4,"t":-1.58,"p":0.186},{"i":12,"c":4,"t":-1.19,"p":0.348},{"i":12,"c":4,"t":-0.8,"p":0.443},{"i":12,"c":4,"t":-0.41,"p":0.348},{"i":12,"c":4,"t":-0.02,"p":0.186},{"i":12,"c":4,"t":0.37,"p":0.08},{"i":12,"c":4,"t":0.76,"p":0.031},{"i":12,"c":4,"t":1.54,"p":0.004},{"i":12,"c":4,"t":4,"p":0},
{"i":12,"c":5,"t":-4,"p":0},{"i":12,"c":5,"t":-2.146,"p":0.007},{"i":12,"c":5,"t":-1.788,"p":0.018},{"i":12,"c":5,"t":-1.431,"p":0.047},{"i":12,"c":5,"t":-1.074,"p":0.117},{"i":12,"c":5,"t":-0.806,"p":0.219},{"i":12,"c":5,"t":-0.539,"p":0.372},{"i":12,"c":5,"t":-0.36,"p":0.493},{"i":12,"c":5,"t":-0.181,"p":0.613},{"i":12,"c":5,"t":0.086,"p":0.766},{"i":12,"c":5,"t":0.354,"p":0.868},{"i":12,"c":5,"t":0.711,"p":0.938},{"i":12,"c":5,"t":1.068,"p":0.967},{"i":12,"c":5,"t":1.426,"p":0.978},{"i":12,"c":5,"t":1.783,"p":0.983},{"i":12,"c":5,"t":4,"p":0.985},
{"i":13,"c":1,"t":-4,"p":0.97},{"i":13,"c":1,"t":-3.315,"p":0.938},{"i":13,"c":1,"t":-2.726,"p":0.868},{"i":13,"c":1,"t":-2.285,"p":0.766},{"i":13,"c":1,"t":-1.844,"p":0.613},{"i":13,"c":1,"t":-1.55,"p":0.493},{"i":13,"c":1,"t":-1.256,"p":0.372},{"i":13,"c":1,"t":-0.815,"p":0.219},{"i":13,"c":1,"t":-0.374,"p":0.117},{"i":13,"c":1,"t":0.215,"p":0.047},{"i":13,"c":1,"t":0.803,"p":0.018},{"i":13,"c":1,"t":1.391,"p":0.007},{"i":13,"c":1,"t":4,"p":0},
{"i":13,"c":2,"t":-4,"p":0.018},{"i":13,"c":2,"t":-3.5,"p":0.042},{"i":13,"c":2,"t":-2.95,"p":0.097},{"i":13,"c":2,"t":-2.4,"p":0.181},{"i":13,"c":2,"t":-1.85,"p":0.23},{"i":13,"c":2,"t":-1.3,"p":0.181},{"i":13,"c":2,"t":-0.75,"p":0.097},{"i":13,"c":2,"t":-0.2,"p":0.042},{"i":13,"c":2,"t":0.35,"p":0.016},{"i":13,"c":2,"t":1.45,"p":0.002},{"i":13,"c":2,"t":4,"p":0},
{"i":13,"c":3,"t":-4,"p":0.007},{"i":13,"c":3,"t":-3.32,"p":0.025},{"i":13,"c":3,"t":-2.77,"p":0.063},{"i":13,"c":3,"t":-2.22,"p":0.145},{"i":13,"c":3,"t":-1.67,"p":0.272},{"i":13,"c":3,"t":-1.12,"p":0.346},{"i":13,"c":3,"t":-0.57,"p":0.272},{"i":13,"c":3,"t":-0.02,"p":0.145},{"i":13,"c":3,"t":0.53,"p":0.063},{"i":13,"c":3,"t":1.08,"p":0.025},{"i":13,"c":3,"t":2.18,"p":0.003},{"i":13,"c":3,"t":4,"p":0},
{"i":13,"c":4,"t":-4,"p":0.003},{"i":13,"c":4,"t":-2.53,"p":0.03},{"i":13,"c":4,"t":-1.93,"p":0.075},{"i":13,"c":4,"t":-1.33,"p":0.175},{"i":13,"c":4,"t":-0.73,"p":0.328},{"i":13,"c":4,"t":-0.13,"p":0.417},{"i":13,"c":4,"t":0.47,"p":0.328},{"i":13,"c":4,"t":1.07,"p":0.175},{"i":13,"c":4,"t":1.67,"p":0.075},{"i":13,"c":4,"t":2.27,"p":0.03},{"i":13,"c":4,"t":3.47,"p":0.004},{"i":13,"c":4,"t":4,"p":0.002},
{"i":13,"c":5,"t":-4,"p":0},{"i":13,"c":5,"t":-2.182,"p":0.007},{"i":13,"c":5,"t":-1.655,"p":0.018},{"i":13,"c":5,"t":-1.129,"p":0.047},{"i":13,"c":5,"t":-0.603,"p":0.117},{"i":13,"c":5,"t":-0.208,"p":0.219},{"i":13,"c":5,"t":0.187,"p":0.372},{"i":13,"c":5,"t":0.45,"p":0.493},{"i":13,"c":5,"t":0.713,"p":0.613},{"i":13,"c":5,"t":1.108,"p":0.766},{"i":13,"c":5,"t":1.503,"p":0.868},{"i":13,"c":5,"t":2.029,"p":0.938},{"i":13,"c":5,"t":2.555,"p":0.967},{"i":13,"c":5,"t":3.082,"p":0.978},{"i":13,"c":5,"t":4,"p":0.984},
{"i":14,"c":1,"t":-4,"p":0.94},{"i":14,"c":1,"t":-3.529,"p":0.868},{"i":14,"c":1,"t":-3.188,"p":0.766},{"i":14,"c":1,"t":-2.847,"p":0.613},{"i":14,"c":1,"t":-2.62,"p":0.493},{"i":14,"c":1,"t":-2.393,"p":0.372},{"i":14,"c":1,"t":-2.052,"p":0.219},{"i":14,"c":1,"t":-1.711,"p":0.117},{"i":14,"c":1,"t":-1.256,"p":0.047},{"i":14,"c":1,"t":-0.802,"p":0.018},{"i":14,"c":1,"t":-0.347,"p":0.007},{"i":14,"c":1,"t":4,"p":0},
{"i":14,"c":2,"t":-4,"p":0.014},{"i":14,"c":2,"t":-3.87,"p":0.019},{"i":14,"c":2,"t":-3.45,"p":0.048},{"i":14,"c":2,"t":-3.03,"p":0.111},{"i":14,"c":2,"t":-2.61,"p":0.208},{"i":14,"c":2,"t":-2.19,"p":0.265},{"i":14,"c":2,"t":-1.77,"p":0.208},{"i":14,"c":2,"t":-1.35,"p":0.111},{"i":14,"c":2,"t":-0.93,"p":0.048},{"i":14,"c":2,"t":-0.51,"p":0.019},{"i":14,"c":2,"t":0.33,"p":0.003},{"i":14,"c":2,"t":4,"p":0},
{"i":14,"c":3,"t":-4,"p":0.004},{"i":14,"c":3,"t":-3.17,"p":0.029},{"i":14,"c":3,"t":-2.75,"p":0.074},{"i":14,"c":3,"t":-2.33,"p":0.172},{"i":14,"c":3,"t":-1.91,"p":0.322},{"i":14,"c":3,"t":-1.49,"p":0.41},{"i":14,"c":3,"t":-1.07,"p":0.322},{"i":14,"c":3,"t":-0.65,"p":0.172},{"i":14,"c":3,"t":-0.23,"p":0.074},{"i":14,"c":3,"t":0.19,"p":0.029},{"i":14,"c":3,"t":1.03,"p":0.004},{"i":14,"c":3,"t":4,"p":0},
{"i":14,"c":4,"t":-4,"p":0.001},{"i":14,"c":4,"t":-3.32,"p":0.004},{"i":14,"c":4,"t":-2.42,"p":0.03},{"i":14,"c":4,"t":-1.97,"p":0.078},{"i":14,"c":4,"t":-1.52,"p":0.181},{"i":14,"c":4,"t":-1.07,"p":0.338},{"i":14,"c":4,"t":-0.62,"p":0.43},{"i":14,"c":4,"t":-0.17,"p":0.338},{"i":14,"c":4,"t":0.28,"p":0.181},{"i":14,"c":4,"t":0.73,"p":0.078},{"i":14,"c":4,"t":1.18,"p":0.03},{"i":14,"c":4,"t":2.08,"p":0.004},{"i":14,"c":4,"t":4,"p":0},
{"i":14,"c":5,"t":-4,"p":0},{"i":14,"c":5,"t":-2.233,"p":0.007},{"i":14,"c":5,"t":-1.817,"p":0.018},{"i":14,"c":5,"t":-1.4,"p":0.047},{"i":14,"c":5,"t":-0.983,"p":0.117},{"i":14,"c":5,"t":-0.671,"p":0.219},{"i":14,"c":5,"t":-0.358,"p":0.372},{"i":14,"c":5,"t":-0.15,"p":0.493},{"i":14,"c":5,"t":0.058,"p":0.613},{"i":14,"c":5,"t":0.371,"p":0.766},{"i":14,"c":5,"t":0.683,"p":0.868},{"i":14,"c":5,"t":1.1,"p":0.938},{"i":14,"c":5,"t":1.517,"p":0.967},{"i":14,"c":5,"t":1.933,"p":0.978},{"i":14,"c":5,"t":4,"p":0.985}
]},
"facet": {"field": "i", "type": "ordinal", "header": {"labels": false, "labelExpr": "''", "labelFontSize": 0, "labelPadding": 0, "labelColor": "transparent", "title": null, "titlePadding": 0}},
"columns": 4,
"bounds": "flush",
"spacing": {"row": 21, "column": 20.6},
"spec": {
  "width": 222,
  "height": 222,
  "layer": [
    {
      "transform": [{"filter": "datum.g == 1"}],
      "mark": {"type": "rule", "color": "#cccccc", "strokeWidth": 1, "strokeDash": [3, 2], "clip": false},
      "encoding": {
        "x": {"datum": 0, "type": "quantitative", "scale": {"domain": [-4.13, 3.97], "nice": false, "zero": false}, "axis": null},
        "y": {"datum": -0.037, "type": "quantitative", "scale": {"domain": [0.01, 1.005], "nice": false, "zero": false}, "axis": null},
        "y2": {"datum": 1.052}
      }
    },
    {
      "transform": [{"filter": "datum.g == 1"}],
      "mark": {"type": "rule", "color": "#cccccc", "strokeWidth": 1, "strokeDash": [3, 2], "clip": false},
      "encoding": {
        "x": {"datum": -4.513, "type": "quantitative", "axis": null},
        "x2": {"datum": 4.353},
        "y": {"datum": 0.5, "type": "quantitative", "axis": null}
      }
    },
    {
      "transform": [{"filter": "datum.g == 1"}],
      "mark": {"type": "rect", "filled": false, "stroke": "#3d3d3d", "strokeWidth": 1.8, "clip": false},
      "encoding": {
        "x": {"datum": -4.13, "type": "quantitative", "axis": null},
        "x2": {"datum": 3.97},
        "y": {"datum": 0.01, "type": "quantitative", "axis": null},
        "y2": {"datum": 1.005}
      }
    },
    {
      "transform": [{"filter": "isValid(datum.c)"}],
      "mark": {"type": "line", "interpolate": "monotone", "strokeWidth": 1, "clip": false},
      "encoding": {
        "x": {"field": "t", "type": "quantitative", "axis": null},
        "y": {"field": "p", "type": "quantitative", "axis": null},
        "color": {"field": "c", "type": "nominal", "scale": {"domain": [1, 2, 3, 4, 5], "range": ["#000000", "#0000ff", "#ff00ff", "#00ff00", "#00ffff"]}, "legend": null}
      }
    },
    {
      "transform": [{"filter": "isValid(datum.lab)"}],
      "mark": {"type": "text", "align": "left", "baseline": "middle", "font": "Liberation Sans", "fontSize": 13, "fontWeight": "bold", "color": "#000080", "clip": false},
      "encoding": {
        "x": {"datum": 4.77, "type": "quantitative", "axis": null},
        "y": {"datum": 0.455, "type": "quantitative", "axis": null},
        "text": {"field": "lab"}
      }
    },
    {
      "transform": [{"filter": "datum.b == 1"}],
      "mark": {"type": "rule", "color": "#992222", "strokeWidth": 2, "clip": false},
      "encoding": {
        "x": {"datum": -8.811, "type": "quantitative", "axis": null},
        "y": {"datum": 1.2816, "type": "quantitative", "axis": null},
        "y2": {"datum": -3.5145}
      }
    },
    {
      "transform": [{"filter": "datum.b == 1"}],
      "mark": {"type": "rule", "color": "#992222", "strokeWidth": 2, "clip": false},
      "encoding": {
        "x": {"datum": -8.811, "type": "quantitative", "axis": null},
        "x2": {"datum": 35.078},
        "y": {"datum": 1.2816, "type": "quantitative", "axis": null}
      }
    }
  ]
},
"config": {
  "view": {"fill": "#FFFFD5", "stroke": null},
  "axis": {"disable": true},
  "header": {"labels": false, "labelFontSize": 0, "labelPadding": 0, "title": null, "titlePadding": 0},
  "headerFacet": {"labels": false, "labelFontSize": 0, "labelPadding": 0, "title": null},
  "font": "Liberation Sans"
}
}
